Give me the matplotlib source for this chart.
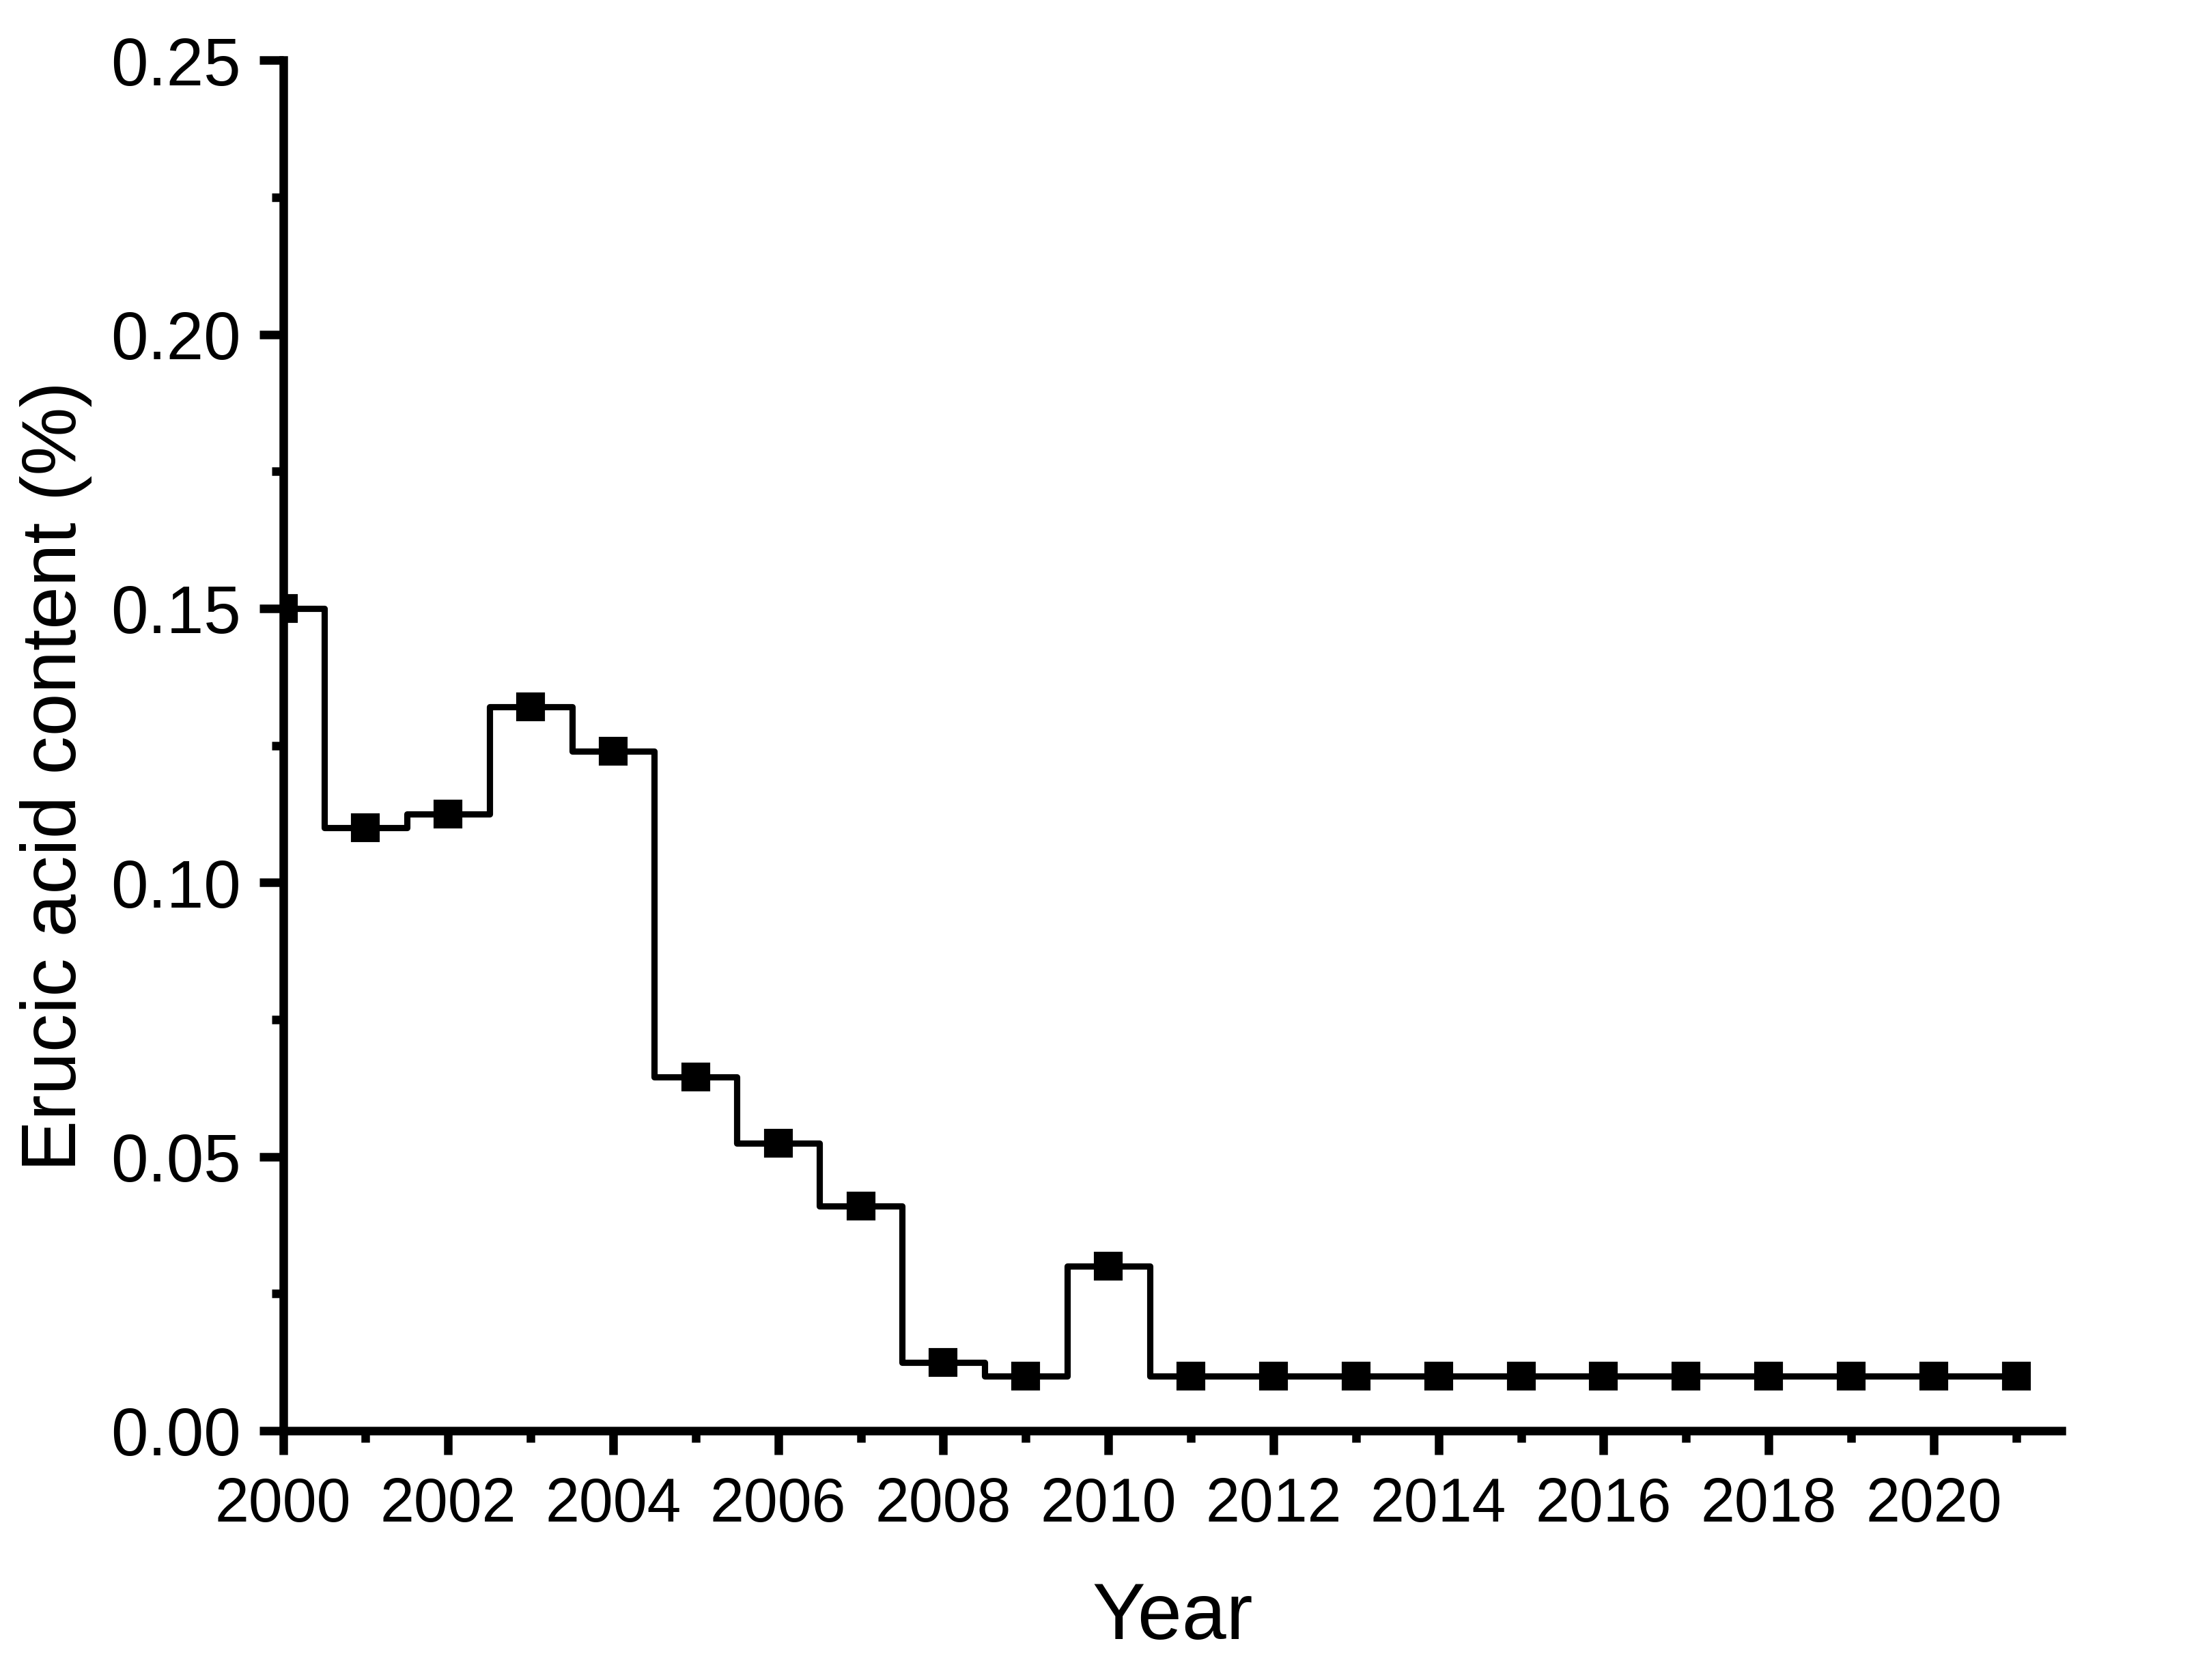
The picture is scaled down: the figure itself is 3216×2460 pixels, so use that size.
import matplotlib
matplotlib.use("Agg")
import matplotlib.pyplot as plt
from matplotlib.ticker import MultipleLocator

plt.rcParams["font.family"] = ["Liberation Sans", "DejaVu Sans"]

years = list(range(2000, 2022))
erucic_acid = [0.150, 0.110, 0.1125, 0.132, 0.124, 0.0645, 0.0525, 0.041,
               0.0125, 0.010, 0.030, 0.010, 0.010, 0.010, 0.010, 0.010,
               0.010, 0.010, 0.010, 0.010, 0.010, 0.010]

fig = plt.figure(figsize=(10.72, 8.203), dpi=300)
ax = fig.add_axes([0.1289, 0.1483, 0.8099, 0.8155])

ax.step(years, erucic_acid, where="mid", color="black", linewidth=2.2)
ax.plot(years, erucic_acid, linestyle="none", marker="s", markersize=9,
        color="black")

ax.set_xlim(2000, 2021.55)
ax.set_ylim(0, 0.25)
ax.xaxis.set_major_locator(MultipleLocator(2))
ax.xaxis.set_minor_locator(MultipleLocator(1))
ax.yaxis.set_major_locator(MultipleLocator(0.05))
ax.yaxis.set_minor_locator(MultipleLocator(0.025))
ax.yaxis.set_major_formatter(lambda v, pos: f"{v:.2f}")

for side in ["top", "right"]:
    ax.spines[side].set_visible(False)
for side in ["left", "bottom"]:
    ax.spines[side].set_linewidth(3)

ax.tick_params(which="major", direction="out", length=8.4, width=3)
ax.tick_params(which="minor", direction="out", length=4, width=3)
ax.tick_params(axis="y", labelsize=23.5, pad=6.5)
ax.tick_params(axis="x", labelsize=21.5, pad=7.4)

ax.set_xlabel("Year", fontsize=28, va="baseline")
ax.xaxis.set_label_coords(0.5, -0.1515)
ax.set_ylabel("Erucic acid content (%)", fontsize=27, va="baseline")
ax.yaxis.set_label_coords(-0.1167, 0.478)

fig.savefig("out.png", dpi=300)
